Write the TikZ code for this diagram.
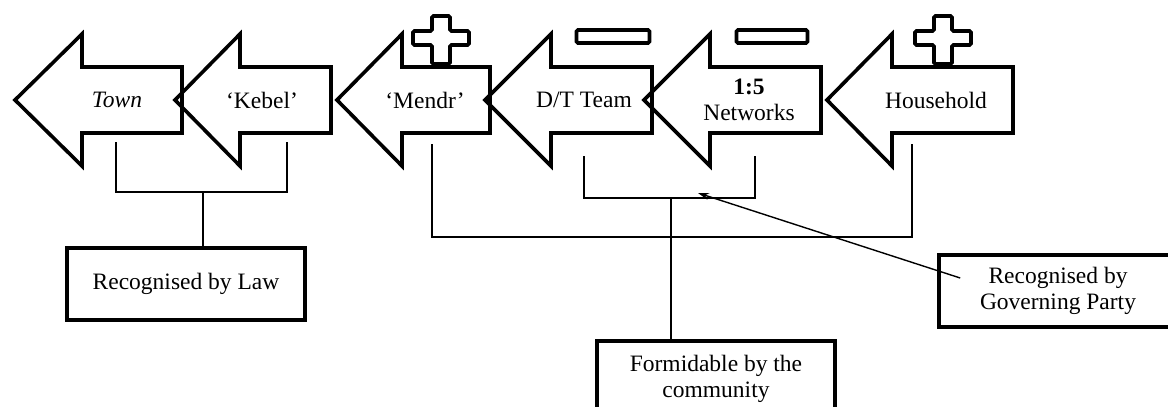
\documentclass[tikz,border=0pt]{standalone}
\usepackage{fontspec}
\setmainfont{Liberation Serif}
\usetikzlibrary{arrows, arrows.meta}
\usetikzlibrary{positioning, calc}

\tikzset{
  blockline/.style={line width=3.6pt, line join=miter},
  signline/.style={line width=3.6pt, rounded corners=1.5pt},
  legline/.style={line width=1.4pt},
  lbl/.style={font=\fontsize{23.5}{26}\selectfont, align=center, inner sep=0pt},
  notebox/.style={draw, line width=3.6pt, minimum width=238pt, minimum height=72pt,
    align=center, font=\fontsize{23.5}{26}\selectfont}
}

\begin{document}
\begin{tikzpicture}[>={Stealth[length=11pt,width=7pt]}, x=1pt, y=-1pt]
      \useasboundingbox (0,0) rectangle (1168,407);
      \clip (0,0) rectangle (1168,407);

      % the chain of block arrows
      \foreach \tip/\back/\tail in {15/82/182, 175/240/331, 337/402/490, 485/551/652, 644/710/821, 827/892/1013}
        \draw[blockline] (\tip,100) -- (\back,34) -- (\back,67) -- (\tail,67) -- (\tail,133) -- (\back,133) -- (\back,166) -- cycle;

      % plus and minus signs
      \foreach \cx in {441, 943}
        \draw[signline] (\cx-9,16) -- (\cx+9,16) -- (\cx+9,31) -- (\cx+28,31) -- (\cx+28,45) -- (\cx+9,45) -- (\cx+9,64)
          -- (\cx-9,64) -- (\cx-9,45) -- (\cx-28,45) -- (\cx-28,31) -- (\cx-9,31) -- cycle;
      \foreach \cx/\w in {613/73, 772/71}
        \draw[signline] (\cx-\w/2,30) rectangle (\cx+\w/2,43);

      \node[lbl, font=\fontsize{23.5}{26}\selectfont\itshape] (town) at (117,100) {Town};
      \node[lbl] (kebel) at (262,100) {‘Kebel’};
      \node[lbl] (mendr) at (425,100) {‘Mendr’};
      \node[lbl] (dtteam) at (584,100) {D/T Team};
      \node[lbl] (networks) at (749,100) {\textbf{1:5}\\Networks};
      \node[lbl] (household) at (936,100) {Household};

      \node[notebox] (law) at (186,284) {Recognised by Law};
      \node[notebox] (party) at (1058,291) {Recognised by\\Governing Party};
      % this box runs off the bottom edge
      \node[notebox, minimum height=90pt, anchor=north] (community) at (716,339) {};
      \node[lbl, below=16pt of community.north] (communitytext) {Formidable by the\\community};

      % brackets under the arrows
      \coordinate (townleg) at (116,142);
      \coordinate (kebelleg) at (287,142);
      \coordinate (lawjoin) at (203,192);
      \coordinate (mendrleg) at (432,144);
      \coordinate (houseleg) at (912,144);
      \coordinate (dtleg) at (584,156);
      \coordinate (netleg) at (755,156);
      \coordinate (teamjoin) at (671,198);
      \coordinate (partytip) at (698,193);

      \draw[legline] (townleg) |- (lawjoin) -| (kebelleg);
      \draw[legline] (lawjoin) -- (lawjoin |- law.north);
      \draw[legline] (mendrleg) |- (671,237) -| (houseleg);
      \draw[legline] (dtleg) |- (teamjoin) -| (netleg);
      \draw[legline] (teamjoin) -- (teamjoin |- community.north);
      \draw[legline, ->] ([shift={(23,-13)}]party.west) -- (partytip);

    \end{tikzpicture}
\end{document}
